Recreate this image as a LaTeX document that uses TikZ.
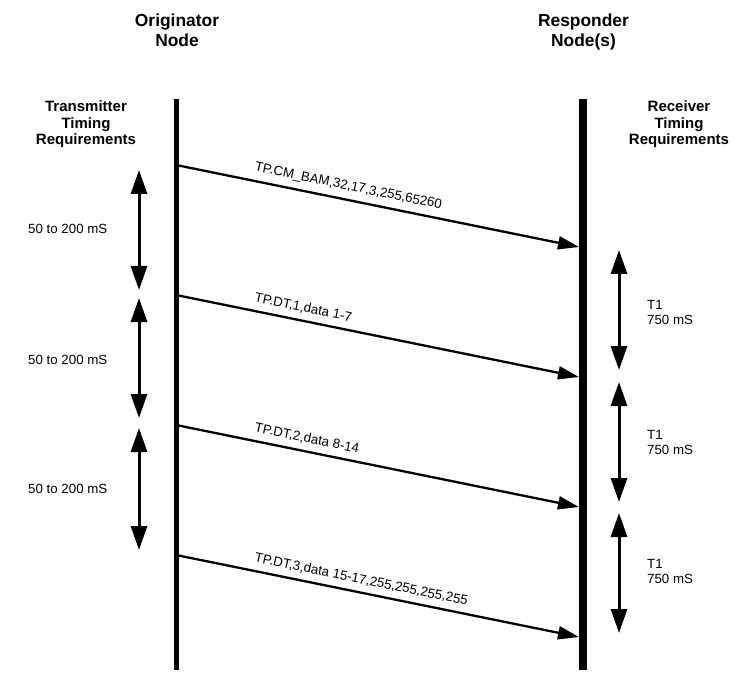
\documentclass[tikz,border=0pt]{standalone}
\usepackage{fontspec}
\setmainfont{Liberation Sans}
\usetikzlibrary{arrows.meta}
\begin{document}
\begin{tikzpicture}[x=1pt,y=-1pt,
  msg/.style={line width=2.3pt, -{Triangle[length=21pt,width=13pt]}},
  span/.style={line width=3pt, {Triangle[length=24pt,width=16pt]}-{Triangle[length=24pt,width=16pt]}},
  head/.style={font=\bfseries\fontsize{17.4}{20}\selectfont, align=center, anchor=base, inner sep=0pt},
  subhead/.style={font=\bfseries\fontsize{15}{16.8}\selectfont, align=center, anchor=base, inner sep=0pt},
  small/.style={font=\fontsize{13.3}{15}\selectfont, align=left, anchor=base west, inner sep=0pt},
  lbl/.style={font=\fontsize{13.3}{15}\selectfont, sloped, anchor=south west, inner sep=6pt, pos=0.172}]
\useasboundingbox[fill=white] (0,0) rectangle (756,698);

% headers
\node[head] (orig) at (177,46.5) {Originator\\Node};
\node[head] (resp) at (583.5,46.5) {Responder\\Node(s)};
\node[subhead] (tx) at (86,145) {Transmitter\\Timing\\Requirements};
\node[subhead] (rx) at (679,145) {Receiver\\Timing\\Requirements};

% lifelines
\coordinate (Ltop) at (176,99);
\coordinate (Lbot) at (176,670);
\coordinate (Rtop) at (583,99);
\coordinate (Rbot) at (583,670);
\draw[line width=5pt] (Ltop) -- (Lbot);
\draw[line width=8pt] (Rtop) -- (Rbot);

% messages
\coordinate (m1s) at (176,165); \coordinate (m1e) at (579,247);
\coordinate (m2s) at (176,295); \coordinate (m2e) at (579,377);
\coordinate (m3s) at (176,425); \coordinate (m3e) at (579,507);
\coordinate (m4s) at (176,555); \coordinate (m4e) at (579,637);
\draw[msg] (m1s) -- node[lbl] (l1) {TP.CM\_BAM,32,17,3,255,65260} (m1e);
\draw[msg] (m2s) -- node[lbl] (l2) {TP.DT,1,data 1-7} (m2e);
\draw[msg] (m3s) -- node[lbl] (l3) {TP.DT,2,data 8-14} (m3e);
\draw[msg] (m4s) -- node[lbl] (l4) {TP.DT,3,data 15-17,255,255,255,255} (m4e);

% transmitter timing spans
\coordinate (t1a) at (139,170); \coordinate (t1b) at (139,290);
\coordinate (t2a) at (139,298); \coordinate (t2b) at (139,418);
\coordinate (t3a) at (139,428); \coordinate (t3b) at (139,550);
\draw[span] (t1a) -- (t1b);
\draw[span] (t2a) -- (t2b);
\draw[span] (t3a) -- (t3b);
\node[small] (tl1) at (28,234) {50 to 200 mS};
\node[small] (tl2) at (28,364) {50 to 200 mS};
\node[small] (tl3) at (28,493) {50 to 200 mS};

% receiver timing spans
\coordinate (r1a) at (619,250); \coordinate (r1b) at (619,370);
\coordinate (r2a) at (619,382); \coordinate (r2b) at (619,502);
\coordinate (r3a) at (619,513); \coordinate (r3b) at (619,633);
\draw[span] (r1a) -- (r1b);
\draw[span] (r2a) -- (r2b);
\draw[span] (r3a) -- (r3b);
\node[small] (rl1) at (647,324) {T1\\750 mS};
\node[small] (rl2) at (647,454) {T1\\750 mS};
\node[small] (rl3) at (647,583) {T1\\750 mS};
\end{tikzpicture}
\end{document}
